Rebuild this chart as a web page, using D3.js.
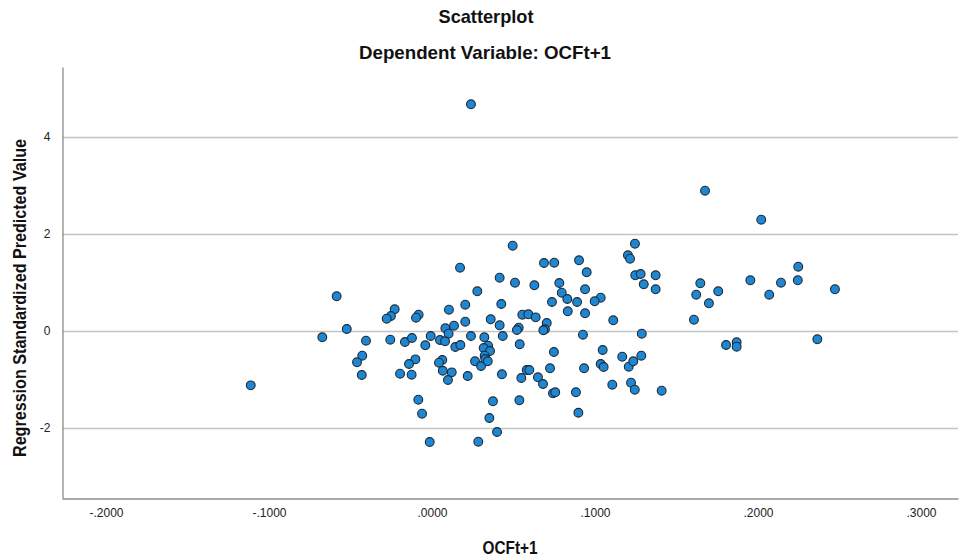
<!DOCTYPE html>
<html>
<head>
<meta charset="utf-8">
<script src="https://cdn.jsdelivr.net/npm/d3@7"></script>
<style>
    body { margin: 0; background: #fff; }
    svg { display: block; }
    .title { font-family: "Liberation Sans", Arial, sans-serif; font-weight: bold; fill: #111; }
    .tick text { font-family: "Liberation Sans", Arial, sans-serif; font-size: 12px; fill: #222; }
</style>
</head>
<body>
<svg id="chart"></svg>
<script>
//横轴: OCFt+1
var ocf = [
    0.0172, 0.0278, -0.0585, -0.0229, -0.0252, -0.0278, -0.0082, -0.0098, 0.0104, 0.0204,
    0.0204, 0.0135, 0.0082, 0.0102, -0.0523, -0.0673, -0.0405, -0.0256, -0.0166, -0.0123,
    -0.0008, -0.0041, 0.0049, 0.0080, 0.0239, 0.0143, 0.0174, -0.0428, -0.0460, -0.0431,
    -0.0102, -0.0141, -0.0196, -0.0125, 0.0063, 0.0043, 0.0066, 0.0121, 0.0098, 0.0219,
    0.0264, -0.1112, -0.0084, -0.0061, -0.0014, 0.0284, 0.0495, 0.1245, 0.1202, 0.1215,
    0.0687, 0.0750, 0.0902, 0.0949, 0.0415, 0.0509, 0.0628, 0.0781, 0.1247, 0.1280,
    0.1299, 0.1372, 0.1372, 0.1646, 0.1621, 0.1699, 0.1756, 0.1607, 0.0425, 0.0796,
    0.0830, 0.0890, 0.0939, 0.1035, 0.0998, 0.0736, 0.0833, 0.0939, 0.0360, 0.0415,
    0.0554, 0.0591, 0.0636, 0.0704, 0.0693, 0.0683, 0.0532, 0.0521, 0.1112, 0.0321,
    0.0434, 0.0926, 0.1287, 0.0344, 0.0317, 0.0356, 0.0538, 0.0323, 0.0301, 0.0327,
    0.0342, 0.0748, 0.1047, 0.0429, 0.0548, 0.0581, 0.0597, 0.0650, 0.0681, 0.0724,
    0.0933, 0.1035, 0.1053, 0.1167, 0.1207, 0.1235, 0.1284, 0.1106, 0.1221, 0.1244,
    0.1409, 0.0742, 0.0756, 0.0883, 0.0374, 0.0536, 0.0352, 0.0898, 0.0399, 0.1675,
    0.2020, 0.2247, 0.1953, 0.2141, 0.2244, 0.2069, 0.2472, 0.1804, 0.1869, 0.1869,
    0.2364, 0.0239
];
//纵轴: 回归标准化预测值
var zpred = [
    1.305, 0.819, 0.715, 0.447, 0.309, 0.254, 0.336, 0.274, 0.439, 0.542,
    0.192, 0.109, 0.056, -0.056, 0.041, -0.130, -0.200, -0.179, -0.227, -0.144,
    -0.103, -0.295, -0.186, -0.212, -0.103, -0.330, -0.289, -0.509, -0.645, -0.907,
    -0.584, -0.680, -0.880, -0.901, -0.598, -0.654, -0.819, -0.852, -1.010, -0.928,
    -0.625, -1.120, -1.416, -1.705, -2.289, -2.282, 1.759, 1.800, 1.561, 1.491,
    1.402, 1.408, 1.458, 1.210, 1.099, 0.996, 0.942, 0.990, 1.148, 1.175,
    0.963, 1.148, 0.860, 0.984, 0.748, 0.571, 0.819, 0.233, 0.557, 0.790,
    0.660, 0.598, 0.860, 0.687, 0.612, 0.598, 0.406, 0.365, 0.241, 0.118,
    0.336, 0.344, 0.282, 0.165, 0.035, 0.014, 0.068, 0.021, 0.221, -0.130,
    -0.103, -0.076, -0.056, -0.303, -0.351, -0.412, -0.274, -0.509, -0.722, -0.577,
    -0.625, -0.433, -0.392, -0.893, -0.969, -0.804, -0.804, -0.955, -1.093, -0.769,
    -0.769, -0.680, -0.742, -0.530, -0.736, -0.625, -0.509, -1.107, -1.066, -1.210,
    -1.231, -1.285, -1.264, -1.264, -1.449, -1.429, -1.794, -1.685, -2.082, 2.893,
    2.295, 1.326, 1.045, 0.996, 1.045, 0.748, 0.860, -0.289, -0.233, -0.324,
    -0.171, 4.674
];
//刻度
var xTicks = [-0.2, -0.1, 0, 0.1, 0.2, 0.3];
var yTicks = [-2, 0, 2, 4];

const width = 959, height = 558;
const margin = {top: 67, right: 1, bottom: 60, left: 62};

var svg = d3.select('#chart')
    .attr('width', width)
    .attr('height', height);

var x = d3.scaleLinear()
    .domain([-0.227, 0.3227])
    .range([margin.left, width - margin.right]);

var y = d3.scaleLinear()
    .domain([-3.443, 5.443])
    .range([height - margin.bottom, margin.top]);

//网格线
svg.append('g').attr('class', 'grid')
    .selectAll('line')
    .data(yTicks)
    .enter()
    .append('line')
    .attr('x1', margin.left)
    .attr('x2', width - margin.right)
    .attr('y1', d => Math.round(y(d)) + 0.5)
    .attr('y2', d => Math.round(y(d)) + 0.5)
    .attr('stroke', '#c4c4c4')
    .attr('stroke-width', 1.3);

//坐标轴 (SPSS 用普通连字符作负号)
var fmtX = d => d3.format('.4f')(d).replace('0.', '.').replace('\u2212', '-');
var fmtY = d => d3.format('d')(d).replace('\u2212', '-');

svg.append('g')
    .attr('transform', `translate(0,${height - margin.bottom + 0.5})`)
    .call(d3.axisBottom(x).tickValues(xTicks).tickFormat(fmtX).tickSize(0).tickPadding(10))
    .call(g => g.select('.domain').attr('stroke', '#8c8c8c').attr('stroke-width', 1.3));

svg.append('g')
    .attr('transform', `translate(${margin.left + 0.5},0)`)
    .call(d3.axisLeft(y).tickValues(yTicks).tickFormat(fmtY).tickSize(0).tickPadding(12))
    .call(g => g.select('.domain').attr('stroke', '#8c8c8c').attr('stroke-width', 1.3));

//散点
svg.append('g')
    .selectAll('circle')
    .data(d3.range(ocf.length))
    .enter()
    .append('circle')
    .attr('cx', i => x(ocf[i]))
    .attr('cy', i => y(zpred[i]))
    .attr('r', 4.4)
    .attr('fill', '#1f86d2')
    .attr('stroke', '#1b2a38')
    .attr('stroke-width', 1.1);

//标题 (原图为窄体粗字, 用 textLength 压缩)
function addTitle(txt, tx, ty, len, rot){
    svg.append('text').attr('class', 'title')
        .attr('transform', `translate(${tx},${ty})` + (rot ? ' rotate(-90)' : ''))
        .attr('text-anchor', 'middle')
        .attr('textLength', len)
        .attr('lengthAdjust', 'spacingAndGlyphs')
        .style('font-size', '19px')
        .text(txt);
}
addTitle('Scatterplot', 486, 23, 95);
addTitle('Dependent Variable: OCFt+1', 485, 59, 252);
addTitle('OCFt+1', (margin.left + width - margin.right) / 2, 554, 55);
addTitle('Regression Standardized Predicted Value', 26, 298, 318, true);
</script>
</body>
</html>
